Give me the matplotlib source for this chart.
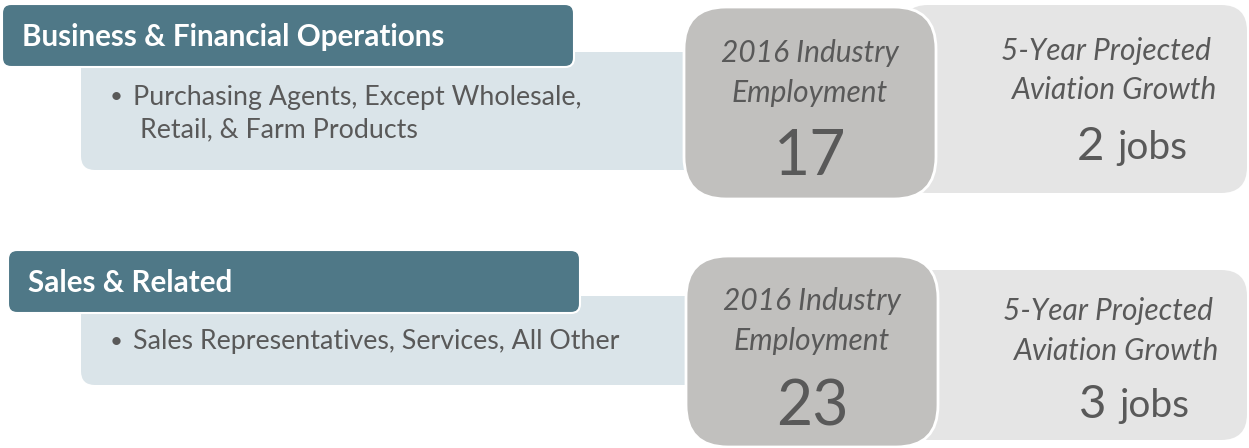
import matplotlib.pyplot as plt
from matplotlib.patches import FancyBboxPatch

plt.rcParams["font.family"] = ["Lato", "DejaVu Sans"]

# data
categories = ["Business & Financial Operations", "Sales & Related"]
occupations = [
    ["Purchasing Agents, Except Wholesale,", "Retail, & Farm Products"],
    ["Sales Representatives, Services, All Other"],
]
employment_2016 = [17, 23]
growth_5yr = [2, 3]
emp_label = ["2016 Industry", "Employment"]
growth_label = ["5-Year Projected", "Aviation Growth"]

TEAL = "#4F7887"
LIGHT_BLUE = "#DAE4E9"
GRAY = "#C1C0BE"
LIGHT_GRAY = "#E5E5E5"
TEXT = "#595959"

fig = plt.figure(figsize=(12.49, 4.48), dpi=100)
ax = fig.add_axes([0, 0, 1, 1])
ax.set_xlim(0, 1249)
ax.set_ylim(448, 0)
ax.axis("off")


def box(x0, y0, x1, y1, color, rad, z, edge="none", lw=0):
    p = FancyBboxPatch((x0 + rad, y0 + rad), x1 - x0 - 2 * rad, y1 - y0 - 2 * rad,
                       boxstyle=f"round,pad={rad},rounding_size={rad}",
                       fc=color, ec=edge, lw=lw, zorder=z)
    ax.add_patch(p)


# per-row layout (pixels)
layouts = [
    dict(top=0, dx=0, lb=(52, 170), bullet_y=97, g=(5, 193), e=(7, 199),
         emp_y=(53, 93, 157), gr_y=(51, 90, 147)),
    dict(top=246, dx=6, lb=(50, 139), bullet_y=96, g=(24, 194), e=(10, 201),
         emp_y=(55, 95, 161), gr_y=(65, 105, 159)),
]

for i, L in enumerate(layouts):
    top, dx = L["top"], L["dx"]
    # left side: occupations panel and header
    box(81, top + L["lb"][0], 705, top + L["lb"][1], LIGHT_BLUE, 14, 1)
    box(2 + dx, top + 4, 574 + dx, top + 67, TEAL, 9, 2, edge="white", lw=1.5)
    ax.text(22 + dx, top + 37, categories[i], color="white", fontsize=21.3,
            fontweight="bold", va="center", ha="left", zorder=3)
    by = top + L["bullet_y"]
    ax.text(110, by, "•", color=TEXT, fontsize=16, va="center", ha="left", zorder=3)
    for j, line in enumerate(occupations[i]):
        ax.text(133 + 7 * j, by + 33 * j, line, color=TEXT, fontsize=19.3,
                va="center", ha="left", zorder=3)

    # right side: growth panel and employment panel
    box(902, top + L["g"][0], 1247, top + L["g"][1], LIGHT_GRAY, 26, 1)
    ex = 810 + dx / 3
    box(684 + dx / 3, top + L["e"][0], 936 + dx / 3, top + L["e"][1], GRAY, 42, 4,
        edge="white", lw=2)
    ey = L["emp_y"]
    ax.text(ex, top + ey[0], emp_label[0], color=TEXT, fontsize=21.5,
            style="italic", ha="center", va="center", zorder=5)
    ax.text(ex, top + ey[1], emp_label[1], color=TEXT, fontsize=21.5,
            style="italic", ha="center", va="center", zorder=5)
    ax.text(ex, top + ey[2], str(employment_2016[i]), color=TEXT,
            fontsize=45, ha="center", va="center", zorder=5)
    gy = L["gr_y"]
    gx = 1106 + dx / 3
    ax.text(gx, top + gy[0], growth_label[0], color=TEXT, fontsize=21.5,
            style="italic", ha="center", va="center", zorder=5)
    ax.text(gx + 9, top + gy[1], growth_label[1], color=TEXT, fontsize=21.5,
            style="italic", ha="center", va="center", zorder=5)
    ax.text(1104 + dx / 3, top + gy[2], str(growth_5yr[i]), color=TEXT, fontsize=34,
            ha="right", va="center", zorder=5)
    ax.text(1117 + dx / 3, top + gy[2] + 1, "jobs", color=TEXT, fontsize=28,
            ha="left", va="center", zorder=5)

fig.savefig("out.png", dpi=100)
